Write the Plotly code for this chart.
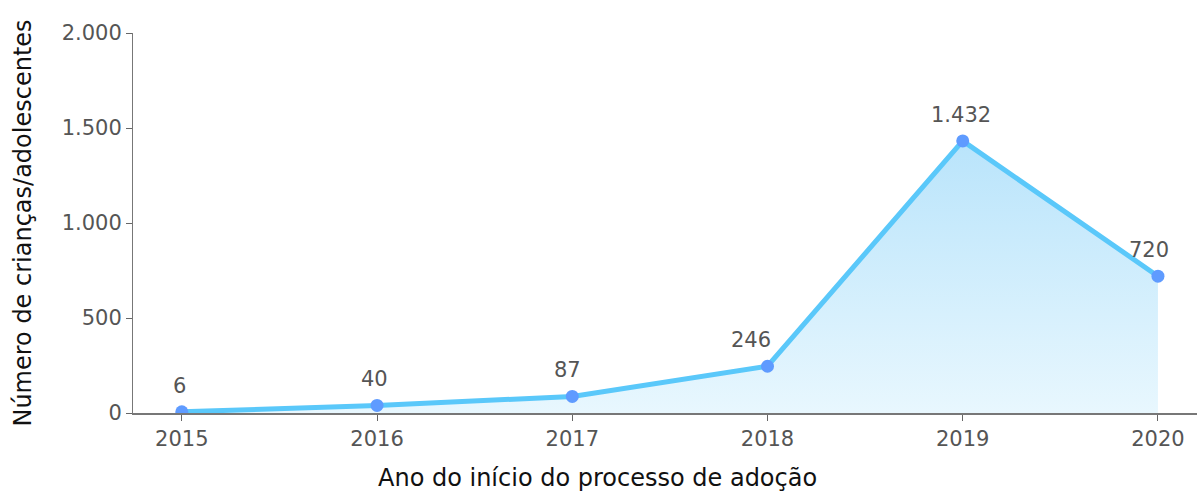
import plotly.graph_objects as go

years = [2015, 2016, 2017, 2018, 2019, 2020]
counts = [6, 40, 87, 246, 1432, 720]
label_shift = [-2, -3, -5, -17, -2, -9]

x_title = "Ano do início do processo de adoção"
y_title = "Número de crianças/adolescentes"

font_family = "DejaVu Sans, sans-serif"

fig = go.Figure()

# gradient area under the line
fig.add_trace(
    go.Scatter(
        x=years,
        y=counts,
        mode="lines",
        line=dict(width=0),
        fill="tozeroy",
        fillgradient=dict(
            type="vertical",
            colorscale=[[0, "#e8f7fe"], [1, "#b9e4fb"]],
        ),
        hoverinfo="skip",
        showlegend=False,
    )
)
fig.add_trace(
    go.Scatter(
        x=years,
        y=counts,
        mode="lines+markers",
        line=dict(color="#5ac8fa", width=5),
        marker=dict(size=13, color="#5f9bff"),
        showlegend=False,
    )
)

for yr, val, dx in zip(years, counts, label_shift):
    fig.add_annotation(
        x=yr,
        y=val,
        text=f"{val:,}".replace(",", "."),
        showarrow=False,
        yanchor="bottom",
        yshift=12,
        xshift=dx,
        font=dict(size=21, color="#555555"),
    )

fig.add_annotation(
    x=(597 - 133) / (1198 - 133 - 1),
    xref="paper",
    y=-0.17,
    yref="paper",
    yanchor="middle",
    text=x_title,
    showarrow=False,
    font=dict(size=24, color="#111111"),
)

fig.update_layout(
    width=1198,
    height=494,
    margin=dict(l=133, r=1, t=33, b=81),
    plot_bgcolor="white",
    paper_bgcolor="white",
    separators=",.",
    font=dict(family=font_family, size=21, color="#555555"),
)

fig.update_xaxes(
    range=[2014.75, 2020.2],
    tickvals=years,
    ticks="outside",
    ticklen=6,
    tickcolor="#666666",
    showline=True,
    linecolor="#777777",
    linewidth=2,
    showgrid=False,
    zeroline=False,
    tickfont=dict(size=21, color="#555555"),
)
fig.update_yaxes(
    range=[0, 2000],
    tickvals=[0, 500, 1000, 1500, 2000],
    tickformat=",d",
    ticks="outside",
    ticklen=6,
    tickcolor="#666666",
    showline=True,
    linecolor="#777777",
    linewidth=1,
    showgrid=False,
    zeroline=False,
    title=dict(text=y_title, font=dict(size=24, color="#111111"), standoff=23),
    tickfont=dict(size=21, color="#555555"),
)

fig.write_html(
    "out.html",
    config={"displayModeBar": False},
    post_script="document.body.style.margin='0';",
)
